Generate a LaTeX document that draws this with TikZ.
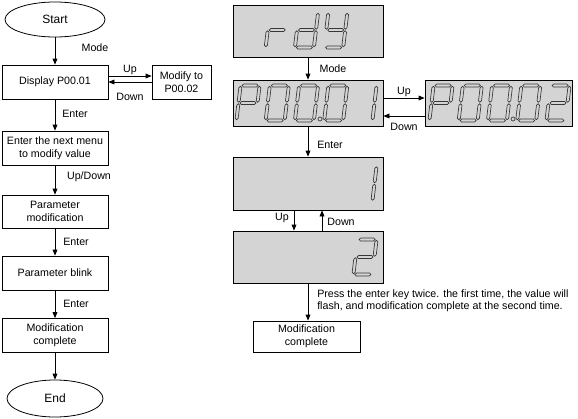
\documentclass[tikz,border=0pt]{standalone}
\usepackage{fontspec}
\setmainfont{Liberation Sans}
\usetikzlibrary{shapes.geometric,arrows.meta}
\definecolor{lcdgray}{RGB}{212,212,212}
\definecolor{seggray}{RGB}{55,55,55}
\newcommand{\hsg}[2]{\draw[seg] (#1-8,#2) -- ++(1.5,-1.5) -- ++(13,0) -- ++(1.5,1.5) -- ++(-1.5,1.5) -- ++(-13,0) -- cycle;}
\newcommand{\vsg}[2]{\draw[seg] (#1,#2-8) -- ++(1.5,1.5) -- ++(0,13) -- ++(-1.5,1.5) -- ++(-1.5,-1.5) -- ++(0,-13) -- cycle;}
\newcommand{\lcda}{\hsg{0}{-17.5}}
\newcommand{\lcdb}{\vsg{9.5}{-8.75}}
\newcommand{\lcdc}{\vsg{9.5}{8.75}}
\newcommand{\lcdd}{\hsg{0}{17.5}}
\newcommand{\lcde}{\vsg{-9.5}{8.75}}
\newcommand{\lcdf}{\vsg{-9.5}{-8.75}}
\newcommand{\lcdg}{\hsg{0}{0}}
\newcommand{\lcdigit}[3]{\begin{scope}[shift={(#1,#2)},xslant=0.12]\foreach \s in {#3}{\csname lcd\s\endcsname}\end{scope}}
\newcommand{\lcdot}[2]{\draw[seg] (#1,#2) circle[radius=1.5pt];}
\begin{document}
	\begin{tikzpicture}
		[x=0.75pt,y=-0.75pt,
		>={Triangle[length=4.5pt,width=3.6pt]},
		flow/.style={
			rectangle,
			draw,
			line width=0.6pt,
			fill=white,
			align=center,
			inner sep=1pt,
			font=\fontsize{8}{10}\selectfont,
			minimum width=79.5pt,
			minimum height=25.5pt
		},
		term/.style={ellipse,draw,line width=0.6pt,font=\fontsize{9}{11}\selectfont,minimum width=75pt,minimum height=26.25pt},
		lcd/.style={rectangle,draw,line width=0.6pt,fill=lcdgray,minimum width=112.5pt,minimum height=34.5pt},
		lbl/.style={inner sep=0pt,font=\fontsize{8}{10}\selectfont},
		seg/.style={draw=seggray,line width=0.5pt},
		arr/.style={->,line width=0.6pt}]
		\useasboundingbox (0,0) rectangle (578,418);
		\node[term] (start) at (55,19.5) {Start};
		\node[flow] (disp) at (55,82) {Display P00.01};
		\node[flow,minimum width=44.25pt] (modify) at (181.5,82) {Modify to\\P00.02};
		\node[flow] (menu) at (55,148) {Enter the next menu\\to modify value};
		\node[flow,minimum height=24.75pt] (parmod) at (55,211.5) {Parameter\\modification};
		\node[flow] (blink) at (55,273) {Parameter blink};
		\node[flow] (modok) at (55,335.5) {Modification\\complete};
		\node[term,minimum width=72pt,minimum height=27.75pt] (stop) at (55,398.5) {End};
		\draw[arr] (start) -- (disp);
		\draw[arr] ([yshift=4.5pt]disp.east) -- ([yshift=4.5pt]modify.west);
		\draw[arr] (modify.west) -- (disp.east);
		\draw[arr] (disp) -- (menu);
		\draw[arr] (menu) -- (parmod);
		\draw[arr] (parmod) -- (blink);
		\draw[arr] (blink) -- (modok);
		\draw[arr] (modok) -- (stop);
		\node[lbl] (lmode) at (95,48) {Mode};
		\node[lbl] (lup) at (130,70) {Up};
		\node[lbl] (ldown) at (130,97) {Down};
		\node[lbl] (lenter) at (75,114) {Enter};
		\node[lbl] (lupdown) at (89,177) {Up/Down};
		\node[lbl] (lenterb) at (76,242) {Enter};
		\node[lbl] (lenterc) at (76,304) {Enter};
		\node[lcd,minimum height=39pt] (rdy) at (308,31) {};
		\node[lcd] (pa) at (308,103) {};
		\node[lcd,minimum width=110.25pt] (pb) at (498.5,103) {};
		\node[lcd,minimum height=39.75pt] (one) at (308,183.5) {};
		\node[lcd,minimum height=39pt] (two) at (308,257) {};
		\node[flow,minimum width=80.25pt,minimum height=23.25pt] (modokb) at (306.5,336.5) {Modification\\complete};
		\lcdigit{277.25}{30}{e,g}
		\lcdigit{306.5}{30}{b,c,d,e,g}
		\lcdigit{335.75}{30}{b,c,d,f,g}
		\lcdigit{248}{103}{a,b,e,f,g}
		\lcdigit{277.25}{103}{a,b,c,d,e,f}
		\lcdigit{306.5}{103}{a,b,c,d,e,f}
		\lcdot{320}{119}
		\lcdigit{335.75}{103}{a,b,c,d,e,f}
		\lcdigit{365}{103}{b,c}
		\lcdigit{441}{103}{a,b,e,f,g}
		\lcdigit{470.25}{103}{a,b,c,d,e,f}
		\lcdigit{499.5}{103}{a,b,c,d,e,f}
		\lcdot{513}{119}
		\lcdigit{528.75}{103}{a,b,c,d,e,f}
		\lcdigit{558}{103}{a,b,d,e,g}
		\lcdigit{365}{183.5}{b,c}
		\lcdigit{365}{257}{a,b,d,e,g}
		\draw[arr] (rdy) -- (pa);
		\draw[arr] ([yshift=3.75pt]pa.east) -- ([yshift=3.75pt]pb.west);
		\draw[arr] ([yshift=-9.75pt]pb.west) -- ([yshift=-9.75pt]pa.east);
		\draw[arr] (pa) -- (one);
		\draw[arr] ([xshift=-10.5pt]one.south) -- ([xshift=-10.5pt]two.north);
		\draw[arr] ([xshift=10.5pt]two.north) -- ([xshift=10.5pt]one.south);
		\draw[arr] (two.south) -- (two.south |- modokb.north);
		\node[lbl] (rmode) at (333,69) {Mode};
		\node[lbl] (rup) at (404,92) {Up};
		\node[lbl] (rdown) at (404,127) {Down};
		\node[lbl] (renter) at (330,145) {Enter};
		\node[lbl] (rupb) at (282,218) {Up};
		\node[lbl] (rdownb) at (341,222) {Down};
		\node[lbl,align=left,anchor=west,font=\fontsize{8}{9}\selectfont] (note) at (317,301) {Press the enter key twice. the first time, the value will\\flash, and modification complete at the second time.};
	\end{tikzpicture}
\end{document}
